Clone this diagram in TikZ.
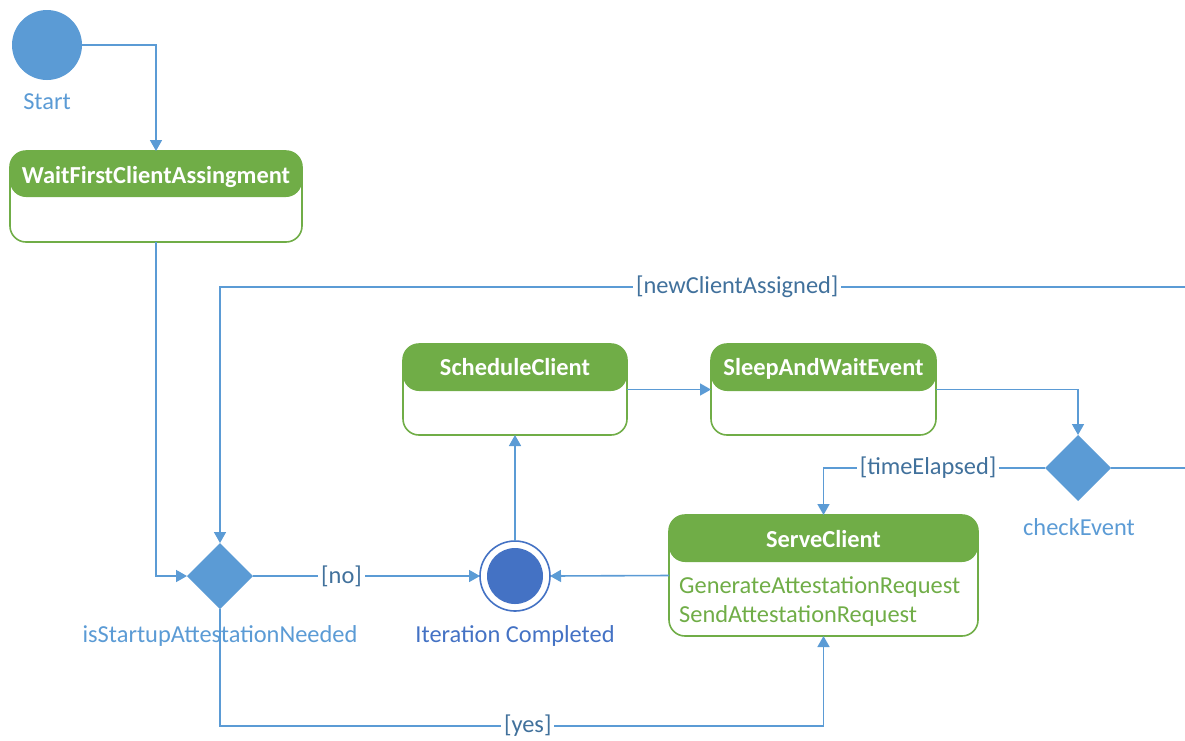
\documentclass[tikz,border=0pt]{standalone}
\usepackage{fontspec}
\setmainfont{Carlito}
\usetikzlibrary{arrows.meta,shapes.geometric,calc}
\definecolor{flowblue}{HTML}{5B9BD5}
\definecolor{guardblue}{HTML}{41719C}
\definecolor{endblue}{HTML}{4472C4}
\definecolor{stategreen}{HTML}{70AD47}
\begin{document}
\begin{tikzpicture}[x=1pt,y=-1pt,
  font=\fontsize{24.4}{29}\selectfont,
  line/.style={draw=flowblue, line width=1.6pt},
  flow/.style={line, -{Triangle[length=11pt,width=12pt]}},
  guard/.style={fill=white, text=guardblue, inner sep=3pt},
  statebox/.style n args={3}{draw=stategreen, line width=1.6pt, rounded corners=16pt,
    anchor=north west, inner sep=0pt, outer sep=0pt,
    minimum width=#1, minimum height=#2,
    path picture={\fill[stategreen] (path picture bounding box.north west)
      rectangle ([yshift=-#3]path picture bounding box.north east);}},
  statename/.style={text=white, font=\fontsize{24.4}{29}\selectfont\bfseries, anchor=base},
  activity/.style={text=stategreen, anchor=base west, inner sep=0pt},
  initial/.style={circle, fill=flowblue, minimum size=70pt, inner sep=0pt, outer sep=0pt},
  decision/.style={diamond, aspect=1, fill=flowblue, minimum width=66pt, minimum height=66pt, inner sep=0pt, outer sep=0pt},
  caption/.style={text=flowblue, anchor=base},
]
\useasboundingbox (0,0) rectangle (1185,740);

% pseudostates
\node[initial] (start) at (47,45) {};
\node[caption] (startLbl) at (47,109) {Start};

\node[decision] (needed) at (220,576) {};
\node[caption] (neededLbl) at (220,642) {isStartupAttestationNeeded};

\node[decision] (check) at (1078,468) {};
\node[caption] (checkLbl) at (1079,535) {checkEvent};

\node[circle, draw=endblue, fill=white, line width=1.6pt, minimum size=70pt, inner sep=0pt, outer sep=0pt] (iter) at (515,576) {};
\fill[endblue] (iter.center) circle (28);
\node[caption, text=endblue] (iterLbl) at (515,642) {Iteration Completed};

% states
\node[statebox={292pt}{91pt}{46pt}] (wait) at (10,151) {};
\node[statename] (waitName) at ([yshift=-32pt]wait.north) {WaitFirstClientAssingment};

\node[statebox={224pt}{91pt}{47pt}] (sched) at (403,344) {};
\node[statename] (schedName) at ([yshift=-31pt]sched.north) {ScheduleClient};

\node[statebox={225pt}{91pt}{47pt}] (sleep) at (711,344) {};
\node[statename] (sleepName) at ([yshift=-31pt]sleep.north) {SleepAndWaitEvent};

\node[statebox={309pt}{121pt}{47pt}] (serve) at (669,515) {};
\node[statename] (serveName) at ([yshift=-32pt]serve.north) {ServeClient};
\node[activity] (act1) at ([xshift=10pt,yshift=-78pt]serve.north west) {GenerateAttestationRequest};
\node[activity] (act2) at ([xshift=10pt,yshift=-107pt]serve.north west) {SendAttestationRequest};

% free ends at the edge of the sheet
\coordinate (assignedIn) at (1185,287);
\coordinate (checkOut) at (1185,468);
\coordinate (yesLevel) at (0,726);

% transitions
\draw[flow] (start.east) -| (wait.north);
\draw[flow] (wait.south) |- (needed.west);
\draw[flow] (assignedIn) -| node[guard, pos=0.232] {[newClientAssigned]} (needed.north);
\draw[flow] (needed.east) -- node[guard, pos=0.39] {[no]} (iter.west);
\draw[flow] (iter.north) -- (sched.south);
\draw[flow] (sched.east) -- (sleep.west);
\draw[flow] (sleep.east) -| (check.north);
\draw[line] (check.east) -- (checkOut);
\draw[flow] (check.west) -| node[guard, pos=0.264] {[timeElapsed]} (serve.north);
\draw[flow] (serve.west) -- (iter.east);
\draw[flow] (needed.south) -- (needed.south |- yesLevel)
  -- node[guard, pos=0.51] {[yes]} (serve.south |- yesLevel) -- (serve.south);
\end{tikzpicture}
\end{document}
